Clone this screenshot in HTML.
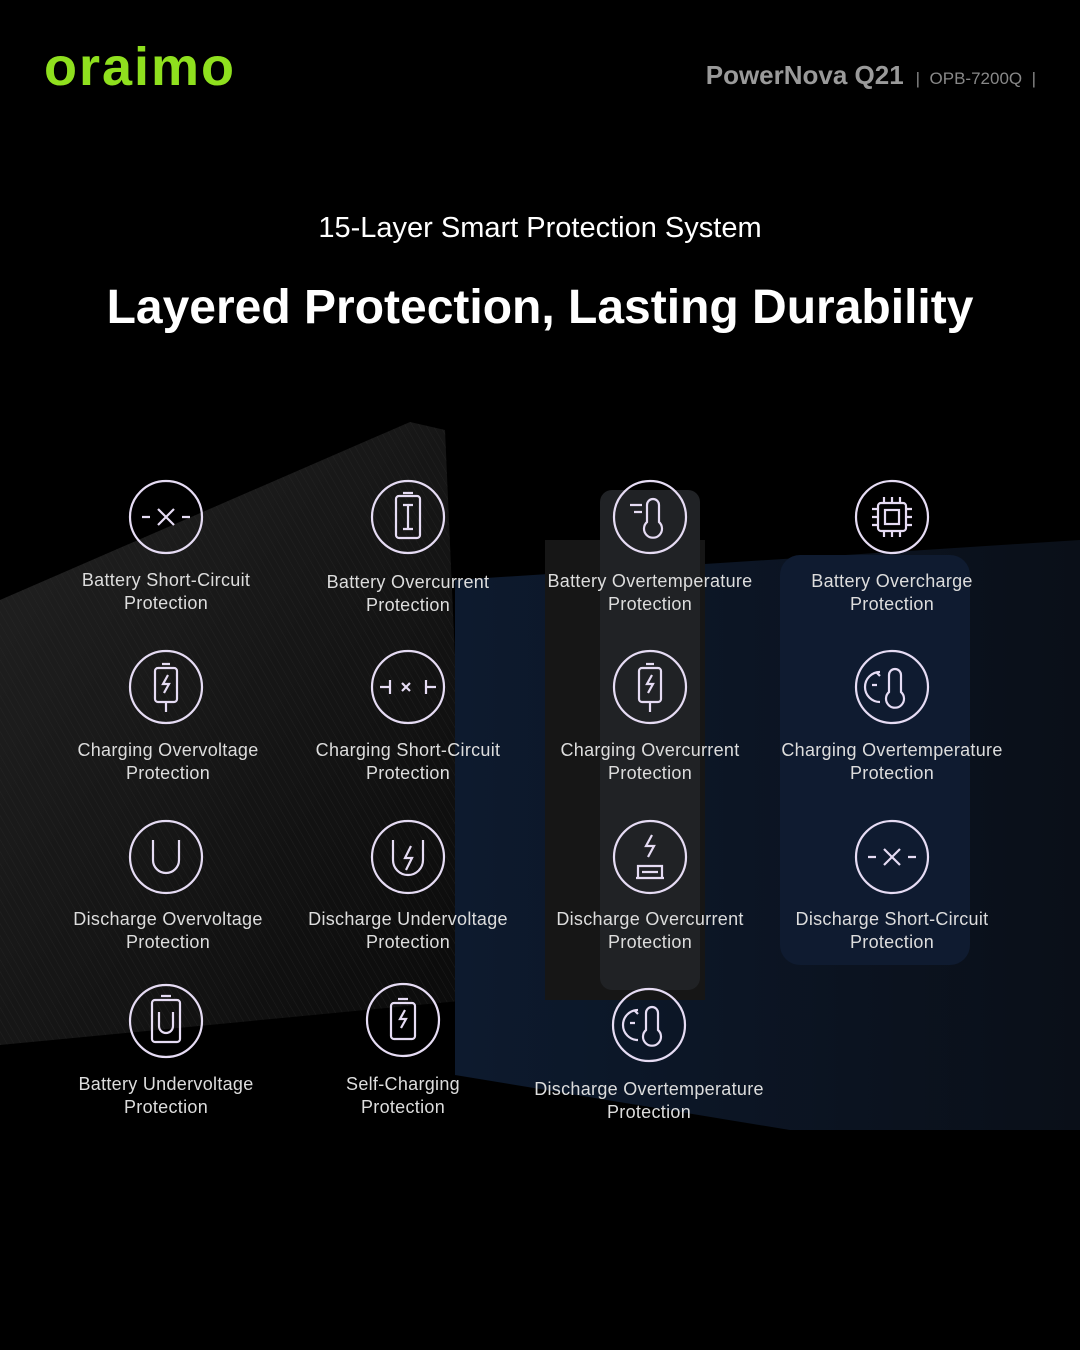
<!DOCTYPE html>
<html><head><meta charset="utf-8"><style>
html,body{margin:0;padding:0;background:#000;}
#c{position:relative;width:1080px;height:1350px;overflow:hidden;background:#000;font-family:"Liberation Sans",sans-serif;}
.logo{position:absolute;left:44px;top:36px;font-size:54px;font-weight:bold;color:#8fe01e;letter-spacing:2px;}
.hdr{position:absolute;right:44px;top:60px;color:#9a9a9a;font-size:26px;font-weight:bold;}
.hdr span{font-size:17px;font-weight:normal;color:#888;}
.t1{position:absolute;top:212px;width:100%;text-align:center;color:#fff;font-size:29px;}
.t2{position:absolute;top:280px;width:100%;text-align:center;color:#fff;font-size:48px;font-weight:bold;}
.lbl{position:absolute;width:260px;text-align:center;color:#ddd;font-size:18px;line-height:23px;letter-spacing:0.3px;}
svg.bg{position:absolute;left:0;top:0;}
</style></head><body><div id="c">
<svg class="bg" width="1080" height="1350">
<defs>
<linearGradient id="g1" x1="0" y1="0" x2="1" y2="1"><stop offset="0" stop-color="#222"/><stop offset="1" stop-color="#0a0a0a"/></linearGradient>
<linearGradient id="g2" x1="0" y1="0" x2="1" y2="0"><stop offset="0" stop-color="#0d1a2e"/><stop offset="1" stop-color="#0a0f18"/></linearGradient>
<pattern id="st" width="6" height="6" patternUnits="userSpaceOnUse" patternTransform="rotate(-30)"><rect width="6" height="6" fill="none"/><line x1="0" y1="0" x2="0" y2="6" stroke="#2c2c2c" stroke-width="1"/></pattern>
</defs>
<polygon points="0,600 410,422 445,430 470,1000 0,1045" fill="url(#g1)"/>
<polygon points="0,600 410,422 445,430 470,1000 0,1045" fill="url(#st)" opacity="0.5"/>
<polygon points="455,580 1080,540 1080,1130 790,1130 455,1075" fill="url(#g2)"/>
<rect x="545" y="540" width="160" height="460" fill="#161616"/>
<rect x="600" y="490" width="100" height="500" rx="12" fill="#202225"/>
<rect x="780" y="555" width="190" height="410" rx="20" fill="#0f1b30"/>
<g fill="none" stroke="#e6dcf4" stroke-width="2.2">
<circle cx="166" cy="517" r="36"/><circle cx="408" cy="517" r="36"/><circle cx="650" cy="517" r="36"/><circle cx="892" cy="517" r="36"/>
<circle cx="166" cy="687" r="36"/><circle cx="408" cy="687" r="36"/><circle cx="650" cy="687" r="36"/><circle cx="892" cy="687" r="36"/>
<circle cx="166" cy="857" r="36"/><circle cx="408" cy="857" r="36"/><circle cx="650" cy="857" r="36"/><circle cx="892" cy="857" r="36"/>
<circle cx="166" cy="1021" r="36"/><circle cx="403" cy="1020" r="36"/><circle cx="649" cy="1025" r="36"/>
<path d="M142 517h8M182 517h8M158 509l16 16M174 509l-16 16"/>
<rect x="396" y="496" width="24" height="42" rx="3"/><path d="M403 493h10M408 505v24M403 505h10M403 529h10"/>
<path d="M647 505a6 6 0 0 1 12 0v17a9 9 0 1 1-12 0z M630 505h12M634 512h8"/>
<rect x="878" y="503" width="28" height="28" rx="3"/><rect x="885" y="510" width="14" height="14"/><path d="M884 497v6M892 497v6M900 497v6M884 531v6M892 531v6M900 531v6M872 509h6M872 517h6M872 525h6M906 509h6M906 517h6M906 525h6"/>
<rect x="155" y="668" width="22" height="34" rx="3"/><path d="M162 664h8M166 702v10M168 675l-5 9h6l-5 9"/>
<path d="M380 687h10M390 680v14M436 687h-10M426 680v14M402 683l8 8M410 683l-8 8"/>
<rect x="639" y="668" width="22" height="34" rx="3"/><path d="M646 664h8M650 702v10M652 675l-5 9h6l-5 9"/>
<path d="M889 675a6 6 0 0 1 12 0v17a9 9 0 1 1-12 0z M880 672a14 14 0 0 0 0 30M872 685h5M877 673l3 3"/>
<path d="M153 840v20a13 13 0 0 0 26 0v-20"/>
<path d="M393 840v20a15 15 0 0 0 30 0v-20M411 846l-6 12h7l-6 12"/>
<path d="M652 835l-6 11h8l-6 11M638 878v-12h24v12M642 872h16M636 878h28"/>
<path d="M868 857h8M908 857h8M884 849l16 16M900 849l-16 16"/>
<rect x="152" y="1000" width="28" height="42" rx="3"/><path d="M161 996h10M159 1012v14a7 7 0 0 0 14 0v-14"/>
<rect x="391" y="1003" width="24" height="36" rx="3"/><path d="M398 999h10M405 1010l-5 9h6l-5 9"/>
<path d="M646 1013a6 6 0 0 1 12 0v17a9 9 0 1 1-12 0z M638 1010a14 14 0 0 0 0 30M630 1023h5M635 1011l3 3"/>
</g>
</svg>
<div class="logo">oraimo</div>
<div class="hdr">PowerNova Q21 <span>&nbsp;|&nbsp; OPB-7200Q &nbsp;|</span></div>
<div class="t1">15-Layer Smart Protection System</div>
<div class="t2">Layered Protection, Lasting Durability</div>
<div class="lbl" style="left:36px;top:569px">Battery Short-Circuit<br>Protection</div>
<div class="lbl" style="left:278px;top:571px">Battery Overcurrent<br>Protection</div>
<div class="lbl" style="left:520px;top:570px">Battery Overtemperature<br>Protection</div>
<div class="lbl" style="left:762px;top:570px">Battery Overcharge<br>Protection</div>
<div class="lbl" style="left:38px;top:739px">Charging Overvoltage<br>Protection</div>
<div class="lbl" style="left:278px;top:739px">Charging Short-Circuit<br>Protection</div>
<div class="lbl" style="left:520px;top:739px">Charging Overcurrent<br>Protection</div>
<div class="lbl" style="left:762px;top:739px">Charging Overtemperature<br>Protection</div>
<div class="lbl" style="left:38px;top:908px">Discharge Overvoltage<br>Protection</div>
<div class="lbl" style="left:278px;top:908px">Discharge Undervoltage<br>Protection</div>
<div class="lbl" style="left:520px;top:908px">Discharge Overcurrent<br>Protection</div>
<div class="lbl" style="left:762px;top:908px">Discharge Short-Circuit<br>Protection</div>
<div class="lbl" style="left:36px;top:1073px">Battery Undervoltage<br>Protection</div>
<div class="lbl" style="left:273px;top:1073px">Self-Charging<br>Protection</div>
<div class="lbl" style="left:519px;top:1078px">Discharge Overtemperature<br>Protection</div>
</div></body></html>
